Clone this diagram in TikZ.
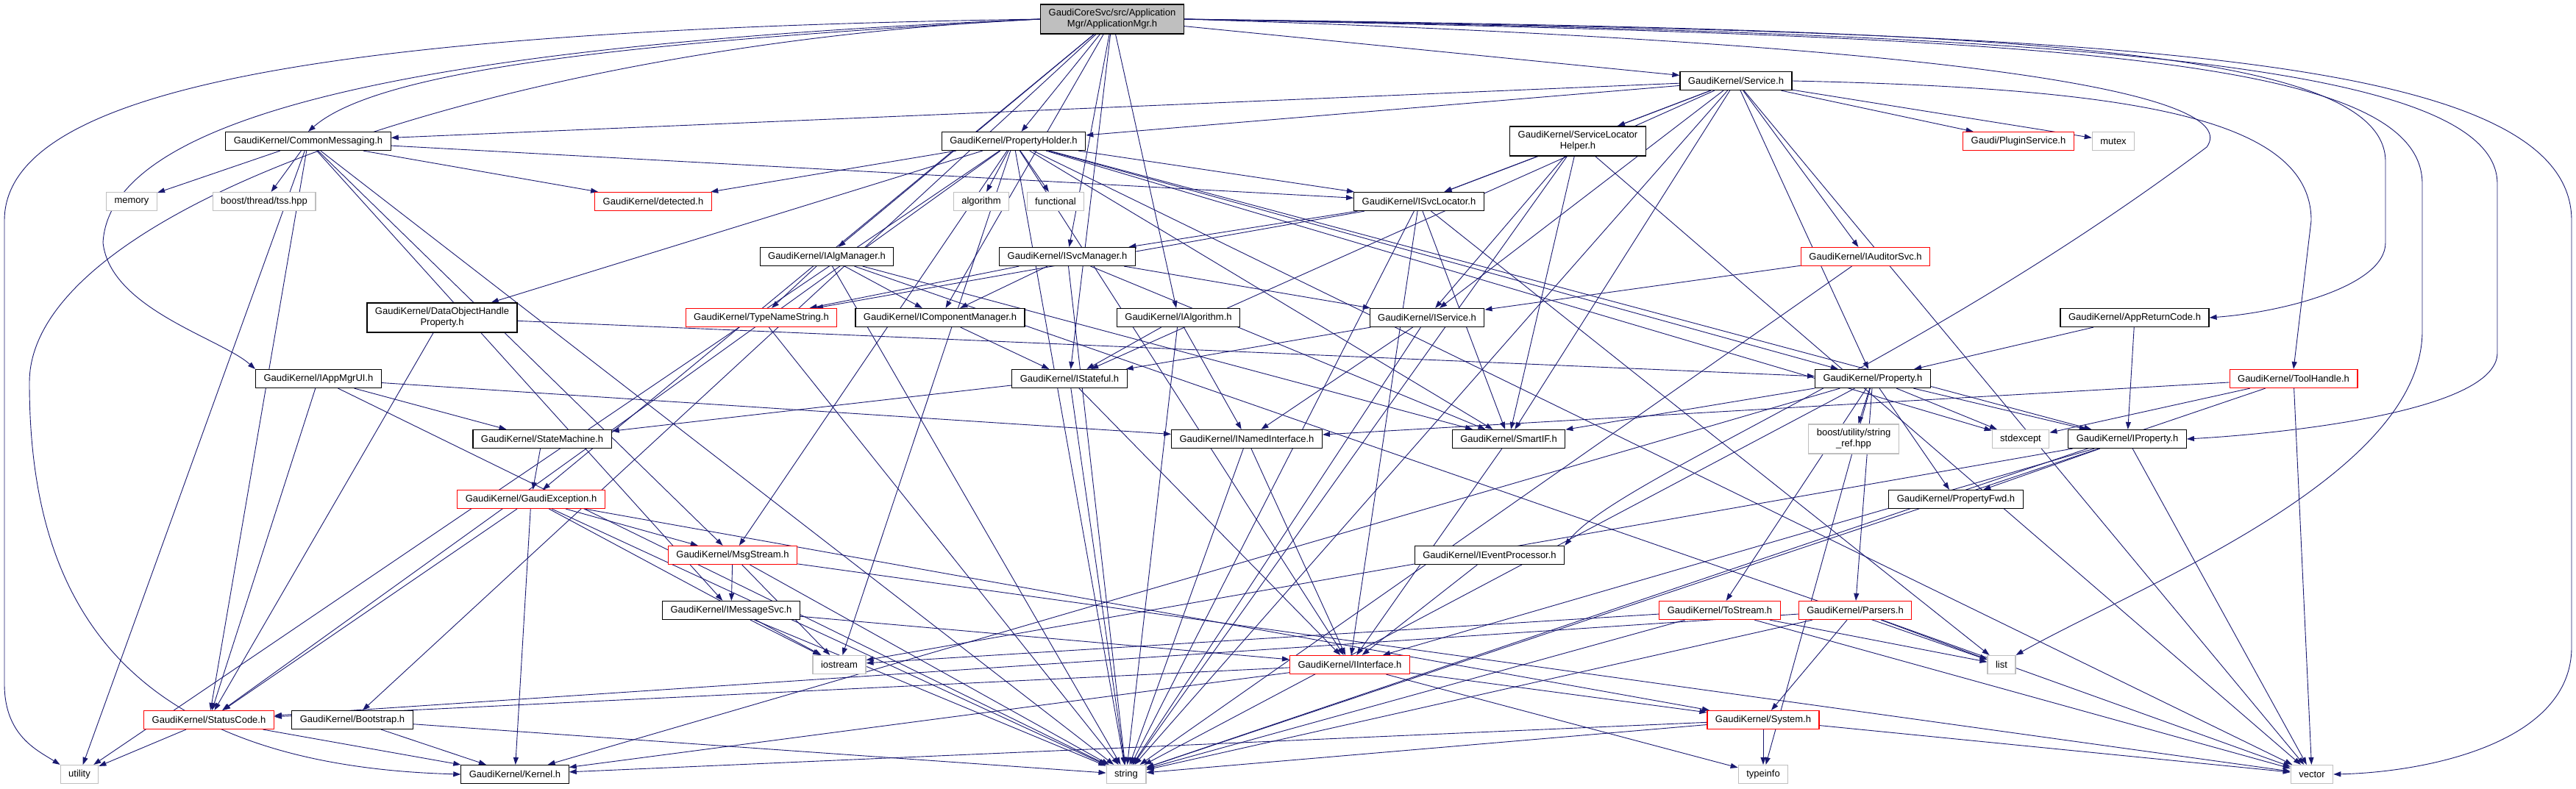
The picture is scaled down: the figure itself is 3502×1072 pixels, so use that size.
\documentclass[tikz,border=0pt]{standalone}
\usepackage{fontspec}
\setmainfont{Liberation Sans}
\usetikzlibrary{arrows.meta,backgrounds}
\definecolor{EdgeClr}{rgb}{0.098,0.098,0.439}
\definecolor{RootClr}{rgb}{0.749,0.749,0.749}
\definecolor{SysClr}{rgb}{0.749,0.749,0.749}
\definecolor{TruncClr}{rgb}{1,0,0}

\tikzset{
  hdr/.style={draw=black,line width=1.2pt,fill=white,rectangle,inner xsep=11pt,inner ysep=0pt,
    minimum height=25pt,font=\fontsize{13}{15}\selectfont,align=center},
  trunc/.style={hdr,draw=TruncClr},
  sys/.style={hdr,draw=SysClr},
  rootbox/.style={hdr,fill=RootClr},
  twoline/.style={minimum height=40pt},
  dep/.style={draw=EdgeClr,line width=0.9pt,-{Triangle[length=10pt,width=7pt]}}
}

\begin{document}
\begin{tikzpicture}[x=1pt,y=-1pt]
\useasboundingbox (0,0) rectangle (3502,1072);

% rank 0 - 2
\node[rootbox,twoline] (R) at (1512,26) {GaudiCoreSvc/src/Application\\Mgr/ApplicationMgr.h};
\node[hdr] (Svc) at (2360,110) {GaudiKernel/Service.h};
\node[hdr] (CM) at (419,192) {GaudiKernel/CommonMessaging.h};
\node[hdr] (PH) at (1378,192) {GaudiKernel/PropertyHolder.h};
\node[hdr,twoline] (SLH) at (2145,192) {GaudiKernel/ServiceLocator\\Helper.h};
\node[trunc] (PSvc) at (2744,192) {Gaudi/PluginService.h};
\node[sys] (Mtx) at (2873,192) {mutex};

% rank 3 - 4
\node[sys] (Mem) at (179,274) {memory};
\node[sys] (Tss) at (359,274) {boost/thread/tss.hpp};
\node[trunc] (Det) at (888,274) {GaudiKernel/detected.h};
\node[sys] (Alg) at (1334,274) {algorithm};
\node[sys] (Fun) at (1435,274) {functional};
\node[hdr] (ISL) at (1929,274) {GaudiKernel/ISvcLocator.h};
\node[hdr] (IAM) at (1124,349) {GaudiKernel/IAlgManager.h};
\node[hdr] (ISM) at (1451,349) {GaudiKernel/ISvcManager.h};
\node[trunc] (IAS) at (2536,349) {GaudiKernel/IAuditorSvc.h};

% rank 5 - 6
\node[hdr,twoline] (DOHP) at (601,432) {GaudiKernel/DataObjectHandle\\Property.h};
\node[trunc] (TNS) at (1035,432) {GaudiKernel/TypeNameString.h};
\node[hdr] (ICM) at (1278,432) {GaudiKernel/IComponentManager.h};
\node[hdr] (IAl) at (1602,432) {GaudiKernel/IAlgorithm.h};
\node[hdr] (ISv) at (1940,432) {GaudiKernel/IService.h};
\node[hdr] (ARC) at (2902,432) {GaudiKernel/AppReturnCode.h};
\node[hdr] (AMU) at (433,515) {GaudiKernel/IAppMgrUI.h};
\node[hdr] (ISt) at (1454,515) {GaudiKernel/IStateful.h};
\node[hdr] (Prop) at (2546,515) {GaudiKernel/Property.h};
\node[trunc] (TH) at (3118,515) {GaudiKernel/ToolHandle.h};

% rank 7 - 9
\node[hdr] (SM) at (737,597) {GaudiKernel/StateMachine.h};
\node[hdr] (INI) at (1695,597) {GaudiKernel/INamedInterface.h};
\node[hdr] (SIF) at (2051,597) {GaudiKernel/SmartIF.h};
\node[sys,twoline] (SRef) at (2520,597) {boost/utility/string\\\_ref.hpp};
\node[sys] (Stx) at (2747,597) {stdexcept};
\node[hdr] (IPr) at (2892,597) {GaudiKernel/IProperty.h};
\node[trunc] (GEx) at (722,679) {GaudiKernel/GaudiException.h};
\node[hdr] (PFwd) at (2659,679) {GaudiKernel/PropertyFwd.h};
\node[trunc] (Msg) at (996,755) {GaudiKernel/MsgStream.h};
\node[hdr] (IEP) at (2025,755) {GaudiKernel/IEventProcessor.h};

% rank 10 - 13
\node[hdr] (IMS) at (994,830) {GaudiKernel/IMessageSvc.h};
\node[trunc] (TSt) at (2338,830) {GaudiKernel/ToStream.h};
\node[trunc] (Prs) at (2522,830) {GaudiKernel/Parsers.h};
\node[sys] (Ios) at (1141,904) {iostream};
\node[trunc] (IIf) at (1835,904) {GaudiKernel/IInterface.h};
\node[sys] (Lst) at (2721,904) {list};
\node[trunc] (SC) at (284,979) {GaudiKernel/StatusCode.h};
\node[hdr] (Boot) at (479,979) {GaudiKernel/Bootstrap.h};
\node[trunc] (Sys) at (2397,979) {GaudiKernel/System.h};
\node[sys] (Utl) at (108,1053) {utility};
\node[hdr] (Krn) at (700,1053) {GaudiKernel/Kernel.h};
\node[sys] (Str) at (1531,1053) {string};
\node[sys] (Tinf) at (2397,1053) {typeinfo};
\node[sys] (Vec) at (3143,1053) {vector};

\begin{scope}[on background layer]
% includes of ApplicationMgr.h
\foreach \dst in {PH,Svc,ISM,IAl,IAM,ICM,ISt,GEx,Boot}
  \draw[dep] (R) -- (\dst);
\draw[dep] (R.west) .. controls (900,55) and (520,90) .. (CM.north);
\draw[dep] (R.west) .. controls (600,60) and (150,150) .. (140,330)
  .. controls (150,420) and (300,460) .. (AMU.north west);
\draw[dep] (R.west) .. controls (500,40) and (6,110) .. (6,300) -- (6,930)
  .. controls (6,1000) and (50,1020) .. (Utl.north west);
\draw[dep] (R.west) .. controls (700,60) and (40,280) .. (40,520)
  .. controls (40,800) and (150,1040) .. (Krn.west);
\draw[dep] (R.east) .. controls (2800,45) and (3496,60) .. (3496,300) -- (3496,880)
  .. controls (3496,1010) and (3300,1050) .. (Vec.east);
\draw[dep] (R.east) .. controls (2700,45) and (3395,70) .. (3395,250) -- (3395,480)
  .. controls (3395,560) and (3100,590) .. (IPr.east);
\draw[dep] (R.east) .. controls (2700,40) and (3243,60) .. (3243,220) -- (3243,330)
  .. controls (3243,390) and (3100,425) .. (ARC.east);
\draw[dep] (R.east) .. controls (2750,50) and (3293,70) .. (3293,250) -- (3293,450)
  .. controls (3293,650) and (2900,800) .. (Lst.north east);
\draw[dep] (R.east) .. controls (2700,60) and (3050,130) .. (3000,200)
  .. controls (2600,500) and (2200,650) .. (IEP.north east);

% second level
\foreach \dst in {CM,PH,SLH,ISL,PSvc,Mtx,IAS,ISv,ISt,Prop,SIF,Str,Vec}
  \draw[dep] (Svc) -- (\dst);
\draw[dep] (Svc.east) .. controls (2900,120) and (3142,160) .. (3142,300) -- (TH.north);
\foreach \dst in {Mem,Tss,Det,ISL,Utl,SC,Msg,IMS,Str}
  \draw[dep] (CM) -- (\dst);
\foreach \dst in {Det,Alg,Fun,ISL,DOHP,Prop,IPr,Msg,SC,Utl,Ios,Str,Vec,Stx,SIF,IIf}
  \draw[dep] (PH) -- (\dst);
\foreach \dst in {ISL,ISv,SIF,Vec,Str}
  \draw[dep] (SLH) -- (\dst);
\foreach \dst in {ISM,TNS,IIf,SIF,Str,Lst}
  \draw[dep] (ISL) -- (\dst);
\foreach \dst in {ISv,Str}
  \draw[dep] (IAS) -- (\dst);
\foreach \dst in {TNS,ICM,SIF,Lst,Str}
  \draw[dep] (IAM) -- (\dst);
\foreach \dst in {TNS,ICM,ISv,SIF,Str}
  \draw[dep] (ISM) -- (\dst);

% middle
\draw[dep] (ICM) -- (ISt);
\foreach \dst in {ISt,INI,Str}
  \draw[dep] (IAl) -- (\dst);
\draw[dep] (TNS) -- (Str);
\foreach \dst in {Prop,SC}
  \draw[dep] (DOHP) -- (\dst);
\foreach \dst in {ISt,INI,Str}
  \draw[dep] (ISv) -- (\dst);
\foreach \dst in {Prop,IPr}
  \draw[dep] (ARC) -- (\dst);
\foreach \dst in {SM,INI,SC,Str}
  \draw[dep] (AMU) -- (\dst);
\foreach \dst in {SM,IIf,Str}
  \draw[dep] (ISt) -- (\dst);
\foreach \dst in {SIF,IPr,PFwd,Stx,SRef,TSt,Prs,Str,Tinf,Krn}
  \draw[dep] (Prop) -- (\dst);
\foreach \dst in {INI,Stx,Str,Vec}
  \draw[dep] (TH) -- (\dst);
\draw[dep] (SM) -- (GEx);
\draw[dep] (SIF) -- (IIf);
\foreach \dst in {PFwd,IIf,Str,Vec,Ios}
  \draw[dep] (IPr) -- (\dst);

% lower part
\foreach \dst in {SC,Krn,Str,Ios,Msg,Sys}
  \draw[dep] (GEx) -- (\dst);
\foreach \dst in {IMS,Str,Vec,Ios}
  \draw[dep] (Msg) -- (\dst);
\draw[dep] (IEP) -- (IIf);
\foreach \dst in {Ios,Str,IIf}
  \draw[dep] (IMS) -- (\dst);
\foreach \dst in {Ios,Str,Lst,Vec}
  \draw[dep] (TSt) -- (\dst);
\foreach \dst in {SC,Str,Vec,Lst,Sys}
  \draw[dep] (Prs) -- (\dst);
\foreach \dst in {IIf,Str}
  \draw[dep] (INI) -- (\dst);
\foreach \dst in {SC,Krn,Sys,Tinf}
  \draw[dep] (IIf) -- (\dst);
\foreach \dst in {Utl,Krn}
  \draw[dep] (SC) -- (\dst);
\foreach \dst in {Krn,Str}
  \draw[dep] (Boot) -- (\dst);
\foreach \dst in {Krn,Str,Tinf,Vec}
  \draw[dep] (Sys) -- (\dst);
\end{scope}

\end{tikzpicture}
\end{document}
